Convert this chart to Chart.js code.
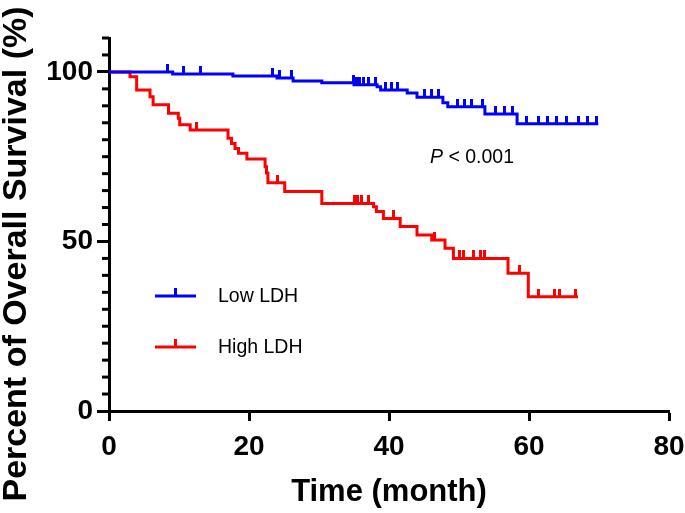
<!DOCTYPE html>
<html><head><meta charset="utf-8">
<script src="https://cdn.jsdelivr.net/npm/chart.js@4"></script>
<style>html,body{margin:0;padding:0;background:#fff}#c{display:block}</style>
</head><body>
<canvas id="c" width="685" height="513"></canvas>
<script>
const xTicks = [0, 20, 40, 60, 80];
const yTicks = [0, 50, 100];
const yMinorTicks = [5,10,15,20,25,30,35,40,45,55,60,65,70,75,80,85,90,95,105,110];
const seriesNames = ['Low LDH', 'High LDH'];
const lowTimes = [0, 9.1, 17.7, 24.0, 26.3, 30.4, 35.0, 38.3, 38.8, 42.6, 44.0, 47.7, 48.4, 53.7, 58.3, 69.9];
const lowSurv  = [100, 99.4, 98.8, 98.2, 97.3, 96.8, 96.2, 95.6, 94.7, 93.8, 92.5, 90.9, 89.7, 87.6, 84.7, 84.7];
const lowCensor = [8.3, 10.7, 13.0, 23.4, 24.4, 26.1, 34.9, 35.3, 35.8, 36.3, 37.0, 38.0, 39.5, 40.3, 41.2, 45.0, 46.0, 47.0, 49.8, 50.8, 51.8, 53.4, 55.2, 56.5, 57.7, 59.7, 61.3, 62.6, 63.9, 65.4, 67.0, 68.4, 69.7];
const highTimes = [0, 3.0, 3.95, 5.86, 6.3, 8.5, 9.9, 10.1, 11.6, 17.0, 17.5, 18.0, 18.5, 19.7, 22.3, 22.5, 22.7, 25.1, 30.4, 37.8, 38.2, 39.2, 41.6, 44.0, 46.1, 48.0, 49.2, 57.0, 59.9, 67.0];
const highSurv  = [100, 98.6, 94.7, 92.7, 90.3, 87.8, 86.3, 84.4, 82.9, 80.4, 78.9, 77.4, 76.0, 74.3, 72.0, 70.2, 67.3, 64.7, 61.2, 60.2, 58.8, 56.8, 54.4, 51.9, 50.4, 48.0, 45.0, 40.6, 33.7, 33.7];
const highCensor = [12.5, 24.0, 35.0, 35.5, 36.0, 37.1, 40.6, 46.5, 50.1, 50.7, 52.0, 53.0, 53.7, 58.7, 61.3, 63.7, 64.4, 66.6];
const yTitle = 'Percent of Overall Survival (%)';
const pText = '< 0.001';

const BLUE = '#0000ff', RED = '#ff0000';
const FONT = '"Liberation Sans", Arial, sans-serif';

function survAt(times, surv, t) {
  let v = surv[0];
  for (let i = 0; i < times.length; i++) { if (times[i] <= t) v = surv[i]; }
  return v;
}
function tickImg(color) {
  const c = document.createElement('canvas');
  c.width = 3; c.height = 16;
  const g = c.getContext('2d');
  g.fillStyle = color; g.fillRect(0, 0, 3, 8);
  return c;
}
const stepPts = (t, s) => t.map((x, i) => ({x, y: s[i]}));
const censorPts = (c, t, s) => c.map(x => ({x, y: survAt(t, s, x)}));

const extras = {
  id: 'extras',
  afterDraw(chart) {
    const ctx = chart.ctx, y = chart.scales.y, x = chart.scales.x;
    ctx.save();
    ctx.strokeStyle = '#000'; ctx.lineWidth = 3;
    const ax = x.left;
    yMinorTicks.forEach(v => {
      const py = y.getPixelForValue(v);
      ctx.beginPath(); ctx.moveTo(ax - 7, py); ctx.lineTo(ax, py); ctx.stroke();
    });
    // y title
    ctx.save();
    ctx.translate(17, 254);
    ctx.rotate(-Math.PI / 2);
    ctx.fillStyle = '#000'; ctx.font = 'bold 34px ' + FONT;
    ctx.textAlign = 'center'; ctx.textBaseline = 'middle';
    ctx.fillText(yTitle, 0, 0);
    ctx.restore();
    // legend
    const items = [{name: seriesNames[0], color: BLUE, y: 296}, {name: seriesNames[1], color: RED, y: 347}];
    items.forEach(it => {
      ctx.strokeStyle = it.color; ctx.lineWidth = 3;
      ctx.beginPath(); ctx.moveTo(155, it.y); ctx.lineTo(196, it.y); ctx.stroke();
      ctx.beginPath(); ctx.moveTo(175.5, it.y); ctx.lineTo(175.5, it.y - 8); ctx.stroke();
      ctx.fillStyle = '#000'; ctx.font = '19.5px ' + FONT; ctx.textBaseline = 'middle'; ctx.textAlign = 'left';
      ctx.fillText(it.name, 218, it.y + 1);
    });
    // p-value
    ctx.fillStyle = '#000'; ctx.textBaseline = 'middle'; ctx.textAlign = 'left';
    ctx.font = 'italic 19.5px ' + FONT;
    ctx.fillText('P', 430, 158);
    const w = ctx.measureText('P ').width;
    ctx.font = '19.5px ' + FONT;
    ctx.fillText(pText, 430 + w, 158);
    ctx.restore();
  }
};

new Chart(document.getElementById('c'), {
  type: 'line',
  data: {
    datasets: [
      {label: seriesNames[0], data: stepPts(lowTimes, lowSurv), borderColor: BLUE, borderWidth: 3, stepped: true, pointRadius: 0, fill: false},
      {label: seriesNames[0] + ' censored', data: censorPts(lowCensor, lowTimes, lowSurv), showLine: false, pointStyle: tickImg(BLUE), pointRadius: 5, borderColor: BLUE, backgroundColor: BLUE},
      {label: seriesNames[1], data: stepPts(highTimes, highSurv), borderColor: RED, borderWidth: 3, stepped: true, pointRadius: 0, fill: false},
      {label: seriesNames[1] + ' censored', data: censorPts(highCensor, highTimes, highSurv), showLine: false, pointStyle: tickImg(RED), pointRadius: 5, borderColor: RED, backgroundColor: RED}
    ]
  },
  options: {
    responsive: false, animation: false,
    layout: {padding: {top: 38, right: 16, left: 0, bottom: 0}},
    plugins: {legend: {display: false}, tooltip: {enabled: false}},
    scales: {
      x: {
        type: 'linear', min: 0, max: 80,
        afterBuildTicks: s => { s.ticks = xTicks.map(v => ({value: v})); },
        afterFit: s => { s.height = 102; s.paddingLeft = 0; s.paddingRight = 0; },
        border: {color: '#000', width: 3},
        grid: {drawOnChartArea: false, drawTicks: true, tickLength: 10, tickWidth: 3, tickColor: '#000'},
        ticks: {color: '#000', font: {family: FONT, size: 28, weight: 'bold'}, padding: 9, maxRotation: 0},
        title: {display: true, text: 'Time (month)', color: '#000', font: {family: FONT, size: 31, weight: 'bold', lineHeight: 1.2}, padding: {top: 0, bottom: 2}}
      },
      y: {
        type: 'linear', min: 0, max: 110,
        afterBuildTicks: s => { s.ticks = yTicks.map(v => ({value: v})); },
        afterFit: s => { s.width = 109; },
        border: {color: '#000', width: 3},
        grid: {drawOnChartArea: false, drawTicks: true, tickLength: 12, tickWidth: 3, tickColor: '#000'},
        ticks: {color: '#000', font: {family: FONT, size: 28, weight: 'bold'}, padding: 4},
        title: {display: false}
      }
    }
  },
  plugins: [extras]
});
</script>
</body></html>
